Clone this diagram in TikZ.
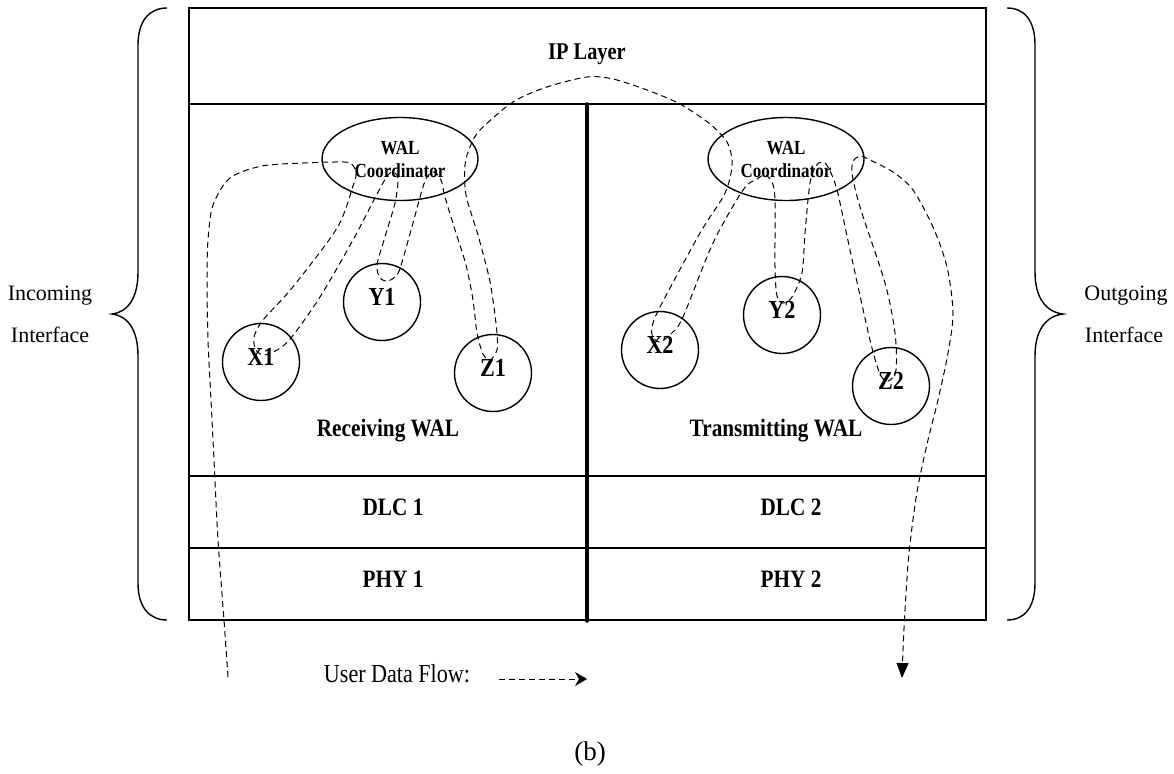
\documentclass[tikz,border=0pt]{standalone}
\usepackage{fontspec}
\setmainfont{Liberation Serif}
\newfontfamily\narrowserif[FakeStretch=0.85]{Liberation Serif}
\usetikzlibrary{shapes.geometric,arrows.meta}

\begin{document}
\begin{tikzpicture}[x=1pt,y=-1pt,
  frame/.style={line width=1.5pt},
  textbox/.style={inner sep=0pt, text height=0.68em, text depth=0pt},
  layerlabel/.style={textbox, font=\narrowserif\bfseries\fontsize{25}{30}\selectfont},
  coord/.style={draw, ellipse, line width=1.4pt, minimum width=156pt, minimum height=83pt,
    inner sep=0pt, align=center, font=\narrowserif\bfseries\fontsize{20}{23}\selectfont},
  entity/.style={draw, circle, line width=1.4pt, minimum size=77pt, inner sep=0pt,
    text height=0.68em, text depth=0pt, font=\narrowserif\bfseries\fontsize{26}{30}\selectfont},
  flow/.style={line width=1pt, dash pattern=on 6pt off 4pt},
  side/.style={textbox, font=\fontsize{22}{26}\selectfont},
  brace/.style={line width=1.4pt}
]
\useasboundingbox (0,0) rectangle (1174,773);

% protocol stack frame
\draw[frame] (189,8) rectangle (986,620);
\draw[frame] (189,104) -- (986,104);
\draw[frame] (189,476) -- (986,476);
\draw[frame] (189,548) -- (986,548);
\draw[line width=3.5pt, line cap=round] (587,104) -- (587,621);

% layer names
\node[layerlabel, font=\narrowserif\bfseries\fontsize{24}{30}\selectfont] (ip) at (587,56) {IP Layer};
\node[layerlabel] (rwal) at (388,433) {Receiving WAL};
\node[layerlabel] (twal) at (776,433) {Transmitting WAL};
\node[layerlabel] (dlc1) at (393,512) {DLC 1};
\node[layerlabel] (dlc2) at (791,512) {DLC 2};
\node[layerlabel] (phy1) at (393,584) {PHY 1};
\node[layerlabel] (phy2) at (791,584) {PHY 2};

% user data path through both WALs
\draw[flow, -{Triangle[length=15pt,width=12pt]}] plot[smooth, tension=0.5] coordinates {
  (228,677) (224,620) (218,540) (214,460) (211,400) (208,340) (207,280) (208,240)
  (213,205) (230,178) (262,166) (303,163) (335,162) (350,163) (356,172) (353,186)
  (337,228) (292,288) (263,320) (254,337) (256,350) (264,355) (277,350) (291,338)
  (320,297) (353,240) (376,196) (386,178) (392,172) (398,178) (395,203) (384,240)
  (377,265) (380,278) (388,281) (397,275) (402,262) (413,223) (422,190) (427,177)
  (434,172) (441,180) (445,197) (455,230) (466,265) (473,300) (477,333) (483,354)
  (490,360) (497,350) (497,333) (493,300) (489,277) (478,235) (466,195) (465,165)
  (470,147) (480,130) (513,102) (547,87) (587,77) (613,79) (647,90) (680,104)
  (710,124) (727,142) (732,160) (730,178) (723,197) (700,233) (660,307) (652,327)
  (653,337) (660,342) (672,333) (683,317) (713,243) (743,190) (757,179) (765,175)
  (772,182) (775,200) (775,267) (777,296) (783,303) (792,297) (802,273) (805,233)
  (810,183) (816,166) (822,162) (828,167) (837,190) (850,250) (870,340) (880,374)
  (888,381) (896,370) (895,333) (885,283) (860,207) (852,173) (854,160) (861,156)
  (868,159) (893,172) (913,190) (933,227) (947,267) (953,313) (948,353) (938,400)
  (928,440) (917,492) (909,553) (905,610) (903,650) (902,678)
};

% WAL coordinators and their entities
\node[coord] (wal1) at (400,159) {WAL\\Coordinator};
\node[coord] (wal2) at (786,159) {WAL\\Coordinator};
\node[entity] (x1) at (261,362) {X1};
\node[entity] (y1) at (382,302) {Y1};
\node[entity] (z1) at (493,373) {Z1};
\node[entity] (x2) at (660,350) {X2};
\node[entity] (y2) at (782,315) {Y2};
\node[entity] (z2) at (891,386) {Z2};

% interface braces
\draw[brace] (167,8) .. controls (150,8) and (138,20) .. (138,45) -- (138,272)
  .. controls (138,298) and (128,312) .. (112,314)
  .. controls (128,316) and (138,330) .. (138,356) -- (138,583)
  .. controls (138,608) and (150,620) .. (167,620);
\draw[brace] (1007,8) .. controls (1024,8) and (1035,20) .. (1035,45) -- (1035,272)
  .. controls (1035,298) and (1046,312) .. (1063,314)
  .. controls (1046,316) and (1035,330) .. (1035,356) -- (1035,583)
  .. controls (1035,608) and (1024,620) .. (1007,620);
\node[side] (inA) at (50,297) {Incoming};
\node[side] (inB) at (50,339) {Interface};
\node[side] (outA) at (1126,297) {Outgoing};
\node[side] (outB) at (1124,339) {Interface};

% legend
\node[textbox, font=\narrowserif\fontsize{26}{30}\selectfont] (udf) at (397,679) {User Data Flow:};
\coordinate (lgA) at (499,679);
\coordinate (lgB) at (587,679);
\draw[flow, -{Stealth[length=12pt,width=14pt,inset=4pt]}] (lgA) -- (lgB);

% caption
\node[textbox, font=\fontsize{27}{30}\selectfont] (cap) at (590,757) {(b)};
\end{tikzpicture}
\end{document}
